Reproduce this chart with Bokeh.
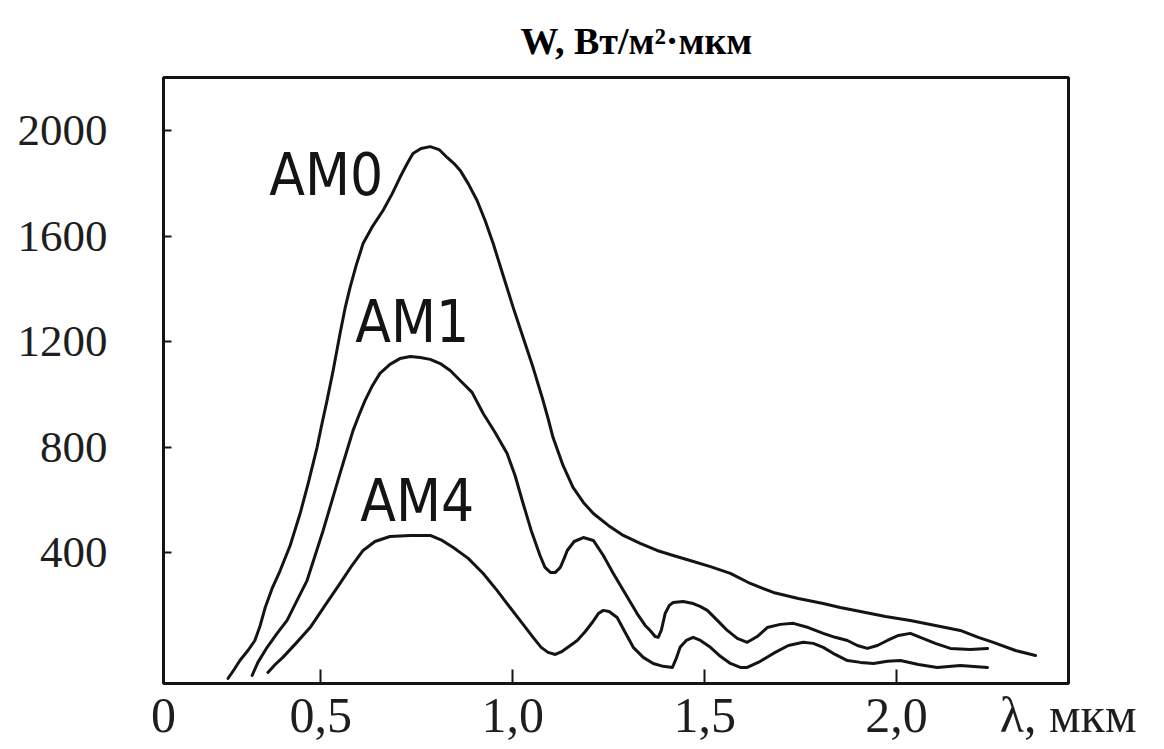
from bokeh.plotting import figure
from bokeh.models import Range1d, FixedTicker, Title
from bokeh.core.properties import value
from bokeh.embed import file_html
from bokeh.resources import INLINE

# ---- data (wavelength in µm, W in W/m²·µm) ----
am0_x = [0.258, 0.274, 0.289, 0.310, 0.328, 0.342, 0.355, 0.373, 0.394, 0.420,
         0.446, 0.467, 0.490, 0.503, 0.516, 0.532, 0.550, 0.563, 0.576, 0.592,
         0.610, 0.633, 0.662, 0.686, 0.706, 0.725, 0.740, 0.761, 0.785, 0.808,
         0.829, 0.847, 0.863, 0.884, 0.907, 0.928, 0.949, 0.975, 1.001, 1.027,
         1.053, 1.079, 1.092, 1.105, 1.131, 1.157, 1.184, 1.210, 1.249, 1.288,
         1.332, 1.376, 1.418, 1.462, 1.515, 1.567, 1.619, 1.679, 1.744, 1.809,
         1.853, 1.906, 1.971, 2.036, 2.101, 2.166, 2.213, 2.252, 2.310, 2.362]
am0_y = [-76, -42, -8, 30, 68, 125, 193, 265, 333, 428,
         549, 663, 799, 890, 977, 1091, 1231, 1326, 1405, 1489,
         1572, 1633, 1697, 1761, 1822, 1875, 1913, 1932, 1939, 1928,
         1898, 1875, 1849, 1799, 1735, 1659, 1572, 1451, 1330, 1216,
         1102, 977, 909, 837, 731, 648, 591, 549, 504, 466,
         436, 409, 390, 371, 348, 322, 284, 250, 227, 208,
         193, 178, 159, 144, 125, 106, 80, 61, 30, 11]

am1_x = [0.321, 0.336, 0.360, 0.386, 0.412, 0.438, 0.464, 0.485, 0.506, 0.529,
         0.550, 0.568, 0.584, 0.600, 0.615, 0.633, 0.654, 0.680, 0.706, 0.733,
         0.759, 0.785, 0.811, 0.837, 0.863, 0.894, 0.923, 0.954, 0.985, 1.006,
         1.027, 1.048, 1.071, 1.084, 1.098, 1.111, 1.124, 1.134, 1.142, 1.160,
         1.184, 1.210, 1.236, 1.262, 1.293, 1.324, 1.345, 1.358, 1.371, 1.379,
         1.387, 1.397, 1.408, 1.418, 1.444, 1.470, 1.488, 1.507, 1.533, 1.559,
         1.585, 1.611, 1.637, 1.663, 1.697, 1.731, 1.770, 1.809, 1.840, 1.872,
         1.898, 1.924, 1.950, 1.976, 2.005, 2.036, 2.062, 2.101, 2.140, 2.192,
         2.237]
am1_y = [-64, -15, 42, 95, 144, 220, 295, 390, 485, 598,
         701, 788, 864, 924, 977, 1030, 1080, 1114, 1136, 1144,
         1140, 1133, 1117, 1091, 1053, 1008, 928, 856, 777, 693,
         587, 485, 390, 345, 326, 326, 345, 379, 409, 443,
         458, 447, 390, 322, 246, 170, 125, 106, 83, 80,
         106, 170, 201, 212, 216, 208, 197, 182, 144, 106,
         76, 61, 83, 117, 129, 133, 117, 95, 80, 68,
         49, 38, 49, 68, 87, 95, 80, 57, 38, 34,
         38]

am4_x = [0.362, 0.381, 0.401, 0.435, 0.472, 0.511, 0.550, 0.581, 0.610, 0.641,
         0.680, 0.733, 0.785, 0.816, 0.845, 0.884, 0.923, 0.959, 0.993, 1.025,
         1.053, 1.074, 1.092, 1.111, 1.129, 1.150, 1.168, 1.189, 1.207, 1.223,
         1.236, 1.251, 1.272, 1.293, 1.314, 1.340, 1.366, 1.392, 1.416, 1.426,
         1.436, 1.452, 1.470, 1.489, 1.515, 1.541, 1.567, 1.593, 1.611, 1.645,
         1.679, 1.718, 1.757, 1.783, 1.809, 1.840, 1.872, 1.906, 1.940, 1.976,
         2.010, 2.057, 2.106, 2.166, 2.237]
am4_y = [-53, -23, 4, 57, 117, 201, 284, 352, 409, 443,
         462, 466, 466, 447, 420, 379, 322, 258, 193, 133,
         80, 42, 23, 15, 27, 49, 68, 102, 136, 170,
         182, 178, 155, 98, 42, 4, -19, -30, -34, 0,
         42, 68, 80, 68, 42, 8, -19, -34, -34, -11,
         19, 49, 61, 57, 42, 15, -8, -15, -19, -11,
         -8, -23, -34, -27, -34]

curve_names = ["AM0", "AM1", "AM4"]

y_title = "W, Вт/м²·мкм"
x_title = "λ, мкм"

# tick marks; the quantity caption sits in the tick-label row at the right end
x_ticks = [0.09, 0.5, 1.0, 1.5, 2.0, 2.447]
x_tick_labels = ["0", "0,5", "1,0", "1,5", "2,0", x_title]
y_ticks = [400, 800, 1200, 1600, 2000]

# ---- figure ----
INK = "#141414"
p = figure(frame_width=905, frame_height=606,
           x_range=Range1d(0.09, 2.448), y_range=Range1d(-95, 2201),
           min_border_left=163, min_border_right=80,
           min_border_top=77, min_border_bottom=50,
           output_backend="svg", toolbar_location=None)
p.grid.visible = False
p.background_fill_color = "white"
p.border_fill_color = "white"
p.outline_line_color = INK
p.outline_line_width = 3

for ax in (p.xaxis[0], p.yaxis[0]):
    ax.axis_line_color = None
    ax.minor_tick_line_color = None
    ax.major_tick_out = 0
    ax.major_tick_line_color = INK
    ax.major_tick_line_width = 2
    ax.major_label_text_font = "Liberation Serif"
    ax.major_label_text_color = "#1e1e1e"

p.xaxis.ticker = FixedTicker(ticks=x_ticks)
p.xaxis.major_label_overrides = dict(zip(x_ticks, x_tick_labels))
p.xaxis.major_tick_in = 14
p.xaxis.major_label_text_font_size = "50px"
p.xaxis.major_label_standoff = 3

p.yaxis.ticker = FixedTicker(ticks=y_ticks)
p.yaxis.major_tick_in = 8
p.yaxis.major_label_text_font_size = "45px"
p.yaxis.major_label_standoff = 56

for xs, ys in ((am0_x, am0_y), (am1_x, am1_y), (am4_x, am4_y)):
    p.line(xs, ys, line_color=INK, line_width=3, line_join="round", line_cap="round")

# hand-lettered curve names
p.text(x=[0.514, 0.738, 0.751], y=[1830, 1273, 598], text=curve_names,
       text_font=value("'DejaVu Sans Condensed', 'Liberation Sans', sans-serif"),
       text_font_size="58px",
       text_color=INK, text_align="center", text_baseline="middle")

# quantity caption above the frame
p.add_layout(Title(text=y_title, align="left", offset=357, standoff=32,
                   text_font="Liberation Serif", text_font_style="bold",
                   text_font_size="38px", text_color="black"), "above")

open("out.html", "w").write(file_html(p, INLINE))
